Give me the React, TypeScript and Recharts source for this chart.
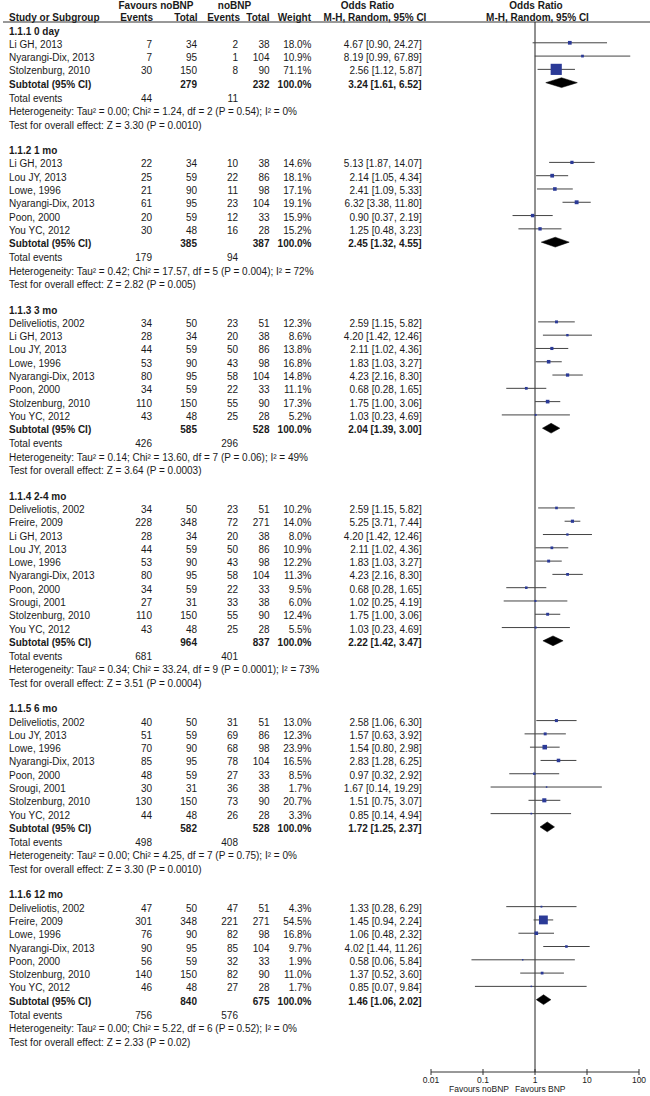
import React from "react";
import {
  ComposedChart,
  Scatter,
  XAxis,
  YAxis,
  ErrorBar,
  ReferenceLine,
  Customized,
} from "recharts";

// [study, events BNP, total BNP, events noBNP, total noBNP, weight %, OR, lower, upper]
type Study = [string, number, number, number, number, number, number, number, number];

const subgroupNames = [
  "1.1.1 0 day",
  "1.1.2 1 mo",
  "1.1.3 3 mo",
  "1.1.4 2-4 mo",
  "1.1.5 6 mo",
  "1.1.6 12 mo",
];

const day0: Study[] = [
  ["Li GH, 2013", 7, 34, 2, 38, 18.0, 4.67, 0.9, 24.27],
  ["Nyarangi-Dix, 2013", 7, 95, 1, 104, 10.9, 8.19, 0.99, 67.89],
  ["Stolzenburg, 2010", 30, 150, 8, 90, 71.1, 2.56, 1.12, 5.87],
];

const mo1: Study[] = [
  ["Li GH, 2013", 22, 34, 10, 38, 14.6, 5.13, 1.87, 14.07],
  ["Lou JY, 2013", 25, 59, 22, 86, 18.1, 2.14, 1.05, 4.34],
  ["Lowe, 1996", 21, 90, 11, 98, 17.1, 2.41, 1.09, 5.33],
  ["Nyarangi-Dix, 2013", 61, 95, 23, 104, 19.1, 6.32, 3.38, 11.8],
  ["Poon, 2000", 20, 59, 12, 33, 15.9, 0.9, 0.37, 2.19],
  ["You YC, 2012", 30, 48, 16, 28, 15.2, 1.25, 0.48, 3.23],
];

const mo3: Study[] = [
  ["Deliveliotis, 2002", 34, 50, 23, 51, 12.3, 2.59, 1.15, 5.82],
  ["Li GH, 2013", 28, 34, 20, 38, 8.6, 4.2, 1.42, 12.46],
  ["Lou JY, 2013", 44, 59, 50, 86, 13.8, 2.11, 1.02, 4.36],
  ["Lowe, 1996", 53, 90, 43, 98, 16.8, 1.83, 1.03, 3.27],
  ["Nyarangi-Dix, 2013", 80, 95, 58, 104, 14.8, 4.23, 2.16, 8.3],
  ["Poon, 2000", 34, 59, 22, 33, 11.1, 0.68, 0.28, 1.65],
  ["Stolzenburg, 2010", 110, 150, 55, 90, 17.3, 1.75, 1.0, 3.06],
  ["You YC, 2012", 43, 48, 25, 28, 5.2, 1.03, 0.23, 4.69],
];

const mo2to4: Study[] = [
  ["Deliveliotis, 2002", 34, 50, 23, 51, 10.2, 2.59, 1.15, 5.82],
  ["Freire, 2009", 228, 348, 72, 271, 14.0, 5.25, 3.71, 7.44],
  ["Li GH, 2013", 28, 34, 20, 38, 8.0, 4.2, 1.42, 12.46],
  ["Lou JY, 2013", 44, 59, 50, 86, 10.9, 2.11, 1.02, 4.36],
  ["Lowe, 1996", 53, 90, 43, 98, 12.2, 1.83, 1.03, 3.27],
  ["Nyarangi-Dix, 2013", 80, 95, 58, 104, 11.3, 4.23, 2.16, 8.3],
  ["Poon, 2000", 34, 59, 22, 33, 9.5, 0.68, 0.28, 1.65],
  ["Srougi, 2001", 27, 31, 33, 38, 6.0, 1.02, 0.25, 4.19],
  ["Stolzenburg, 2010", 110, 150, 55, 90, 12.4, 1.75, 1.0, 3.06],
  ["You YC, 2012", 43, 48, 25, 28, 5.5, 1.03, 0.23, 4.69],
];

const mo6: Study[] = [
  ["Deliveliotis, 2002", 40, 50, 31, 51, 13.0, 2.58, 1.06, 6.3],
  ["Lou JY, 2013", 51, 59, 69, 86, 12.3, 1.57, 0.63, 3.92],
  ["Lowe, 1996", 70, 90, 68, 98, 23.9, 1.54, 0.8, 2.98],
  ["Nyarangi-Dix, 2013", 85, 95, 78, 104, 16.5, 2.83, 1.28, 6.25],
  ["Poon, 2000", 48, 59, 27, 33, 8.5, 0.97, 0.32, 2.92],
  ["Srougi, 2001", 30, 31, 36, 38, 1.7, 1.67, 0.14, 19.29],
  ["Stolzenburg, 2010", 130, 150, 73, 90, 20.7, 1.51, 0.75, 3.07],
  ["You YC, 2012", 44, 48, 26, 28, 3.3, 0.85, 0.14, 4.94],
];

const mo12: Study[] = [
  ["Deliveliotis, 2002", 47, 50, 47, 51, 4.3, 1.33, 0.28, 6.29],
  ["Freire, 2009", 301, 348, 221, 271, 54.5, 1.45, 0.94, 2.24],
  ["Lowe, 1996", 76, 90, 82, 98, 16.8, 1.06, 0.48, 2.32],
  ["Nyarangi-Dix, 2013", 90, 95, 85, 104, 9.7, 4.02, 1.44, 11.26],
  ["Poon, 2000", 56, 59, 32, 33, 1.9, 0.58, 0.06, 5.84],
  ["Stolzenburg, 2010", 140, 150, 82, 90, 11.0, 1.37, 0.52, 3.6],
  ["You YC, 2012", 46, 48, 27, 28, 1.7, 0.85, 0.07, 9.84],
];

const studiesByGroup = [day0, mo1, mo3, mo2to4, mo6, mo12];

// [total BNP, total noBNP, OR, lower, upper]
const subtotals: [number, number, number, number, number][] = [
  [279, 232, 3.24, 1.61, 6.52],
  [385, 387, 2.45, 1.32, 4.55],
  [585, 528, 2.04, 1.39, 3.0],
  [964, 837, 2.22, 1.42, 3.47],
  [582, 528, 1.72, 1.25, 2.37],
  [840, 675, 1.46, 1.06, 2.02],
];

const totalEvents: [number, number][] = [
  [44, 11],
  [179, 94],
  [426, 296],
  [681, 401],
  [498, 408],
  [756, 576],
];

const heterogeneity = [
  "Heterogeneity: Tau² = 0.00; Chi² = 1.24, df = 2 (P = 0.54); I² = 0%",
  "Heterogeneity: Tau² = 0.42; Chi² = 17.57, df = 5 (P = 0.004); I² = 72%",
  "Heterogeneity: Tau² = 0.14; Chi² = 13.60, df = 7 (P = 0.06); I² = 49%",
  "Heterogeneity: Tau² = 0.34; Chi² = 33.24, df = 9 (P = 0.0001); I² = 73%",
  "Heterogeneity: Tau² = 0.00; Chi² = 4.25, df = 7 (P = 0.75); I² = 0%",
  "Heterogeneity: Tau² = 0.00; Chi² = 5.22, df = 6 (P = 0.52); I² = 0%",
];

const overallEffect = [
  "Test for overall effect: Z = 3.30 (P = 0.0010)",
  "Test for overall effect: Z = 2.82 (P = 0.005)",
  "Test for overall effect: Z = 3.64 (P = 0.0003)",
  "Test for overall effect: Z = 3.51 (P = 0.0004)",
  "Test for overall effect: Z = 3.30 (P = 0.0010)",
  "Test for overall effect: Z = 2.33 (P = 0.02)",
];

const axisTicks = [0.01, 0.1, 1, 10, 100];

// ---- layout ----
const FONT = "'Liberation Sans', Arial, sans-serif";
const INK = "#1a1a1a";
const ROW0 = 29.5;
const ROW_H = 13.29;
const PLOT_TOP = 22;
const PLOT_BOTTOM = 1072;
const Y_MIN = (PLOT_TOP - ROW0) / ROW_H;
const Y_MAX = (PLOT_BOTTOM - ROW0) / ROW_H;
const COL = { name: 9, e1: 152, n1: 197, e2: 238, n2: 269.5, w: 311.5, ci: 421.7 };

const fmtCi = (or: number, lo: number, hi: number) =>
  `${or.toFixed(2)} [${lo.toFixed(2)}, ${hi.toFixed(2)}]`;

type Row = {
  kind: "head" | "study" | "sub" | "events" | "text";
  name: string;
  e1?: string;
  n1?: string;
  e2?: string;
  n2?: string;
  w?: string;
  ci?: string;
};

const rowMap = new Map<number, Row>();
const studyPoints: { x: number; y: number; err: [number, number]; w: number }[] = [];
const diamondSets: { x: number; y: number }[][] = [];

let r = 0;
subgroupNames.forEach((g, gi) => {
  rowMap.set(r++, { kind: "head", name: g });
  studiesByGroup[gi].forEach(([name, e1, n1, e2, n2, w, or, lo, hi]) => {
    rowMap.set(r, {
      kind: "study",
      name,
      e1: String(e1),
      n1: String(n1),
      e2: String(e2),
      n2: String(n2),
      w: `${w.toFixed(1)}%`,
      ci: fmtCi(or, lo, hi),
    });
    studyPoints.push({ x: or, y: r, err: [or - lo, hi - or], w });
    r++;
  });
  const [t1, t2, sor, slo, shi] = subtotals[gi];
  rowMap.set(r, {
    kind: "sub",
    name: "Subtotal (95% CI)",
    n1: String(t1),
    n2: String(t2),
    w: "100.0%",
    ci: fmtCi(sor, slo, shi),
  });
  diamondSets.push([
    { x: slo, y: r },
    { x: sor, y: r - 0.37 },
    { x: shi, y: r },
    { x: sor, y: r + 0.37 },
  ]);
  r++;
  rowMap.set(r++, {
    kind: "events",
    name: "Total events",
    e1: String(totalEvents[gi][0]),
    e2: String(totalEvents[gi][1]),
  });
  rowMap.set(r++, { kind: "text", name: heterogeneity[gi] });
  rowMap.set(r++, { kind: "text", name: overallEffect[gi] });
  r++; // blank line
});

const rowTicks = Array.from(rowMap.keys());

const RowTick = (props: any) => {
  const row = rowMap.get(props.payload.value);
  if (!row) return <g />;
  const y = props.y + (row.kind === "events" || row.kind === "text" ? 2.5 : 1.5);
  const bold = row.kind === "head" || row.kind === "sub";
  const cell = (x: number, s: string | undefined, anchor: "start" | "end") =>
    s === undefined ? null : (
      <text x={x} y={y} textAnchor={anchor} dominantBaseline="central">
        {s}
      </text>
    );
  return (
    <g fontFamily={FONT} fontSize={10} fill={INK} fontWeight={bold ? "bold" : "normal"}>
      {cell(COL.name, row.name, "start")}
      {cell(COL.e1, row.e1, "end")}
      {cell(COL.n1, row.n1, "end")}
      {cell(COL.e2, row.e2, "end")}
      {cell(COL.n2, row.n2, "end")}
      {cell(COL.w, row.w, "end")}
      {cell(COL.ci, row.ci, "end")}
    </g>
  );
};

const AxisTick = (props: any) => {
  const { x, y, payload } = props;
  return (
    <g>
      <line x1={x} x2={x} y1={y - 3} y2={y + 3} stroke="#333" />
      <text
        x={x}
        y={y + 8}
        textAnchor="middle"
        dominantBaseline="central"
        fontFamily={FONT}
        fontSize={8.5}
        fill={INK}
      >
        {String(payload.value)}
      </text>
    </g>
  );
};

const Square = (props: any) => {
  const { cx, cy, payload } = props;
  const s = Math.max(1.5, 1.2 + 0.14 * payload.w);
  return <rect x={cx - s / 2} y={cy - s / 2} width={s} height={s} fill="#2B3A97" />;
};

const diamondLine = (p: any) => {
  const pts: { x: number; y: number }[] = p.points || [];
  const d = pts.map((pt, i) => `${i ? "L" : "M"}${pt.x},${pt.y}`).join(" ") + " Z";
  return <path d={d} fill="#000" stroke="#000" strokeWidth={0.5} />;
};

const HeaderLayer = () => (
  <g fontFamily={FONT} fontSize={10} fontWeight="bold" fill={INK}>
    <text x={156} y={5} textAnchor="middle" dominantBaseline="central">Favours noBNP</text>
    <text x={234.5} y={5} textAnchor="middle" dominantBaseline="central">noBNP</text>
    <text x={367.5} y={5} textAnchor="middle" dominantBaseline="central">Odds Ratio</text>
    <text x={536} y={5} textAnchor="middle" dominantBaseline="central">Odds Ratio</text>
    <text x={9} y={17.5} textAnchor="start" dominantBaseline="central">Study or Subgroup</text>
    <text x={153} y={17.5} textAnchor="end" dominantBaseline="central">Events</text>
    <text x={197.5} y={17.5} textAnchor="end" dominantBaseline="central">Total</text>
    <text x={240} y={17.5} textAnchor="end" dominantBaseline="central">Events</text>
    <text x={269.5} y={17.5} textAnchor="end" dominantBaseline="central">Total</text>
    <text x={311} y={17.5} textAnchor="end" dominantBaseline="central">Weight</text>
    <text x={375} y={17.5} textAnchor="middle" dominantBaseline="central">M-H, Random, 95% CI</text>
    <text x={537.5} y={17.5} textAnchor="middle" dominantBaseline="central">M-H, Random, 95% CI</text>
    <line x1={3} x2={650} y1={22} y2={22} stroke="#333" strokeWidth={1} />
    <text x={509} y={1089} textAnchor="end" dominantBaseline="central" fontSize={8.5} fontWeight="normal">
      Favours noBNP
    </text>
    <text x={515} y={1089} textAnchor="start" dominantBaseline="central" fontSize={8.5} fontWeight="normal">
      Favours BNP
    </text>
  </g>
);

export default function App() {
  return (
    <div style={{ position: "absolute", left: 0, top: 0, width: 650, height: 1096, background: "#fff" }}>
      <ComposedChart width={650} height={1096} margin={{ top: PLOT_TOP, right: 11, bottom: 0, left: 0 }}>
        <XAxis
          type="number"
          dataKey="x"
          scale="log"
          domain={[0.01, 100]}
          allowDataOverflow
          ticks={axisTicks}
          interval={0}
          tick={AxisTick}
          tickLine={false}
          tickSize={0}
          tickMargin={0}
          height={1096 - PLOT_BOTTOM}
          stroke="#333"
        />
        <YAxis
          type="number"
          dataKey="y"
          domain={[Y_MIN, Y_MAX]}
          reversed
          allowDataOverflow
          ticks={rowTicks}
          interval={0}
          tick={RowTick}
          tickLine={false}
          axisLine={false}
          width={431}
        />
        <ReferenceLine x={1} stroke="#222" />
        <Scatter data={studyPoints} shape={Square} isAnimationActive={false}>
          <ErrorBar dataKey="err" direction="x" width={0} stroke="#444" strokeWidth={1} isAnimationActive={false} />
        </Scatter>
        {diamondSets.map((pts, i) => (
          <Scatter
            key={i}
            data={pts}
            line={diamondLine}
            lineType="joint"
            shape={() => <g />}
            isAnimationActive={false}
          />
        ))}
        <Customized component={HeaderLayer} />
      </ComposedChart>
    </div>
  );
}
